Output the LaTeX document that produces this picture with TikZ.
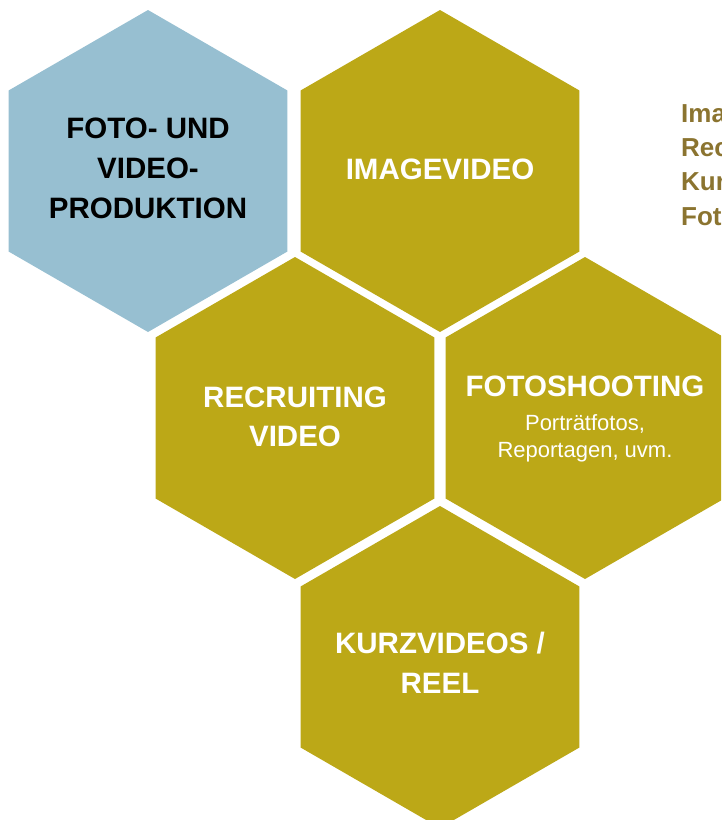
\documentclass[tikz,border=0pt]{standalone}
\usepackage{fontspec}
\setmainfont{Liberation Sans}
\usetikzlibrary{shapes.geometric}
\definecolor{hexblue}{HTML}{97BFD1}
\definecolor{hexgold}{HTML}{BCA817}
\definecolor{sidegold}{HTML}{8B7430}
\tikzset{
  hexbox/.style={regular polygon, regular polygon sides=6, rotate=30,
    minimum size=322pt, inner sep=0pt, outer sep=0pt, draw=none},
  bigtxt/.style={anchor=base, inner sep=0pt, font=\fontsize{29.5}{35}\selectfont\bfseries},
  smalltxt/.style={anchor=base, inner sep=0pt, text=white, font=\fontsize{22}{26}\selectfont},
  sidetxt/.style={anchor=base west, inner sep=0pt, text=sidegold, font=\fontsize{26}{30}\selectfont\bfseries}
}
\begin{document}
\begin{tikzpicture}[x=1pt,y=-1pt]
\useasboundingbox (0,0) rectangle (721,820);
\clip (0,0) rectangle (721,820);
% hexagons
\node[hexbox, fill=hexblue] (hA) at (148,171) {};
\node[hexbox, fill=hexgold] (hB) at (440,171) {};
\node[hexbox, fill=hexgold] (hC) at (295,418) {};
\node[hexbox, fill=hexgold] (hD) at (585,418) {};
\node[hexbox, fill=hexgold] (hE) at (440,667) {};
% texts
\node[bigtxt, text=black] (a1) at (148,138) {FOTO- UND};
\node[bigtxt, text=black] (a2) at (148,178) {VIDEO-};
\node[bigtxt, text=black] (a3) at (148,218) {PRODUKTION};
\node[bigtxt, text=white] (b1) at (440,179) {IMAGEVIDEO};
\node[bigtxt, text=white] (c1) at (295,407) {RECRUITING};
\node[bigtxt, text=white] (c2) at (295,446) {VIDEO};
\node[bigtxt, text=white] (d1) at (585,396) {FOTOSHOOTING};
\node[smalltxt] (d2) at (585,430) {Porträtfotos,};
\node[smalltxt] (d3) at (585,457) {Reportagen, uvm.};
\node[bigtxt, text=white] (e1) at (440,653) {KURZVIDEOS /};
\node[bigtxt, text=white] (e2) at (440,693) {REEL};
% side list (cut off at the right edge, as in the reference)
\node[sidetxt] (s1) at (681,122) {Imagevideo};
\node[sidetxt] (s2) at (681,156) {Recruiting Video};
\node[sidetxt] (s3) at (681,190) {Kurzvideos};
\node[sidetxt] (s4) at (681,225) {Fotoshooting};
\end{tikzpicture}
\end{document}
